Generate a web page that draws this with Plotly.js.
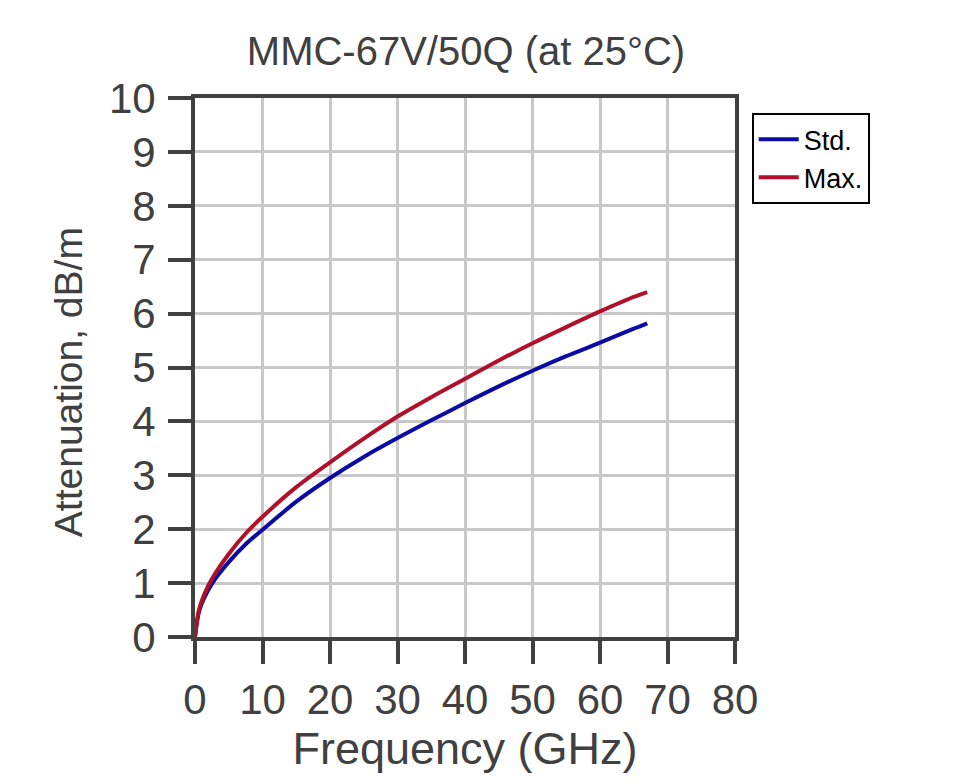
<!DOCTYPE html>
<html>
<head>
<meta charset="utf-8">
<script src="https://cdn.plot.ly/plotly-3.0.1.min.js"></script>
<style>
  html, body { margin: 0; padding: 0; background: #fff; }
  #chart { width: 979px; height: 784px; }
</style>
</head>
<body>
<div id="chart"></div>
<script>
// values
const freqGHz = [0, 0.5, 1, 2, 3, 5, 7.5, 10, 15, 20, 25, 30, 35, 40, 45, 50, 55, 60, 65, 67];
const attenStd = [0, 0.42, 0.62, 0.88, 1.08, 1.39, 1.72, 1.99, 2.51, 2.95, 3.34, 3.69, 4.02, 4.34, 4.65, 4.94, 5.21, 5.46, 5.72, 5.82];
const attenMax = [0, 0.46, 0.67, 0.96, 1.18, 1.54, 1.92, 2.23, 2.78, 3.24, 3.68, 4.09, 4.45, 4.79, 5.13, 5.45, 5.75, 6.04, 6.31, 6.40];
const seriesNames = ["Std.", "Max."];
const xTicks = [0, 10, 20, 30, 40, 50, 60, 70, 80];
const yTicks = [0, 1, 2, 3, 4, 5, 6, 7, 8, 9, 10];

const FONT = "Liberation Sans, Arial, sans-serif";
const INK = "#404040";

const traces = [
  { x: freqGHz, y: attenStd, name: seriesNames[0], type: "scatter", mode: "lines",
    line: { color: "#0a0aa5", width: 4, shape: "spline", smoothing: 0.8 } },
  { x: freqGHz, y: attenMax, name: seriesNames[1], type: "scatter", mode: "lines",
    line: { color: "#b0102a", width: 4, shape: "spline", smoothing: 0.8 } },
];

const axisCommon = {
  showline: true, linecolor: INK, linewidth: 4, mirror: true,
  ticks: "outside", ticklen: 23, tickwidth: 4, tickcolor: INK,
  showgrid: true, gridcolor: "#c8c8c8", gridwidth: 3,
  zeroline: false, tickfont: { family: FONT, size: 42, color: INK },
};

const layout = {
  width: 979, height: 784,
  margin: { l: 195, r: 244, t: 98, b: 147 },
  paper_bgcolor: "#fff", plot_bgcolor: "#fff",
  font: { family: FONT, color: INK },
  title: { text: "MMC-67V/50Q (at 25°C)", font: { family: FONT, size: 40, color: INK },
    x: 0.476, xref: "container", y: 0.935, yref: "container", yanchor: "middle" },
  xaxis: Object.assign({}, axisCommon, {
    range: [0, 80], tickvals: xTicks, ticklabelstandoff: 0,
    title: { text: "Frequency (GHz)", font: { family: FONT, size: 45, color: INK }, standoff: 4 },
  }),
  yaxis: Object.assign({}, axisCommon, {
    range: [0, 10], tickvals: yTicks, ticklabelstandoff: 4,
  }),
  annotations: [{
    text: "Attenuation, dB/m", textangle: -90, showarrow: false,
    xref: "paper", yref: "paper", x: -0.235, y: 0.473, xanchor: "center", yanchor: "middle",
    font: { family: FONT, size: 39, color: INK },
  }],
  showlegend: true,
  legend: {
    x: 1.031, y: 0.972, xanchor: "left", yanchor: "top",
    bordercolor: "#000", borderwidth: 2, bgcolor: "#fff",
    font: { family: FONT, size: 27, color: "#000" },
    tracegroupgap: 0, itemwidth: 40,
  },
};

Plotly.newPlot("chart", traces, layout, { displayModeBar: false, staticPlot: true });
</script>
</body>
</html>
